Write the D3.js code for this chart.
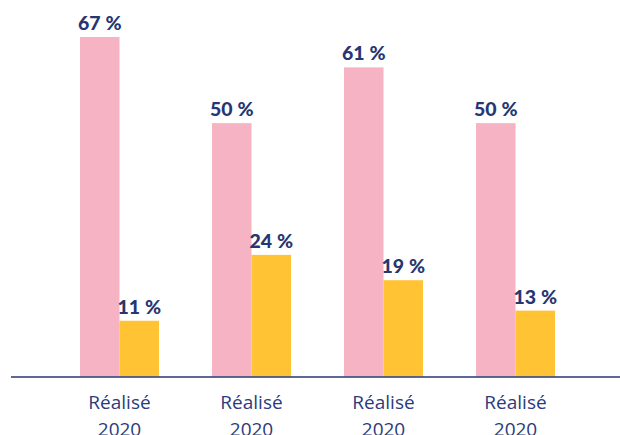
<!DOCTYPE html>
<html>
<head>
<meta charset="utf-8">
<script src="https://d3js.org/d3.v7.min.js"></script>
<style>
  body { margin: 0; background: #fff; }
  svg text { font-family: Lato, "Open Sans", sans-serif; }
</style>
</head>
<body>
<div id="chart"></div>
<script>
  // data
  const groups = ["g1", "g2", "g3", "g4"];
  const groupLabels = [["Réalisé", "2020"], ["Réalisé", "2020"], ["Réalisé", "2020"], ["Réalisé", "2020"]];
  const pinkValues = [67, 50, 61, 50];
  const yellowValues = [11, 24, 19, 13];
  const series = ["pink", "yellow"];
  const colors = ["#f5b3c4", "#ffc333"];

  const width = 620, height = 435;
  const navy = "#263672";

  const svg = d3.select("#chart").append("svg")
      .attr("width", width)
      .attr("height", height);

  const x = d3.scaleBand()
      .domain(groups)
      .range([80, 555])
      .paddingInner(53 / 132)
      .paddingOuter(0);

  const x1 = d3.scaleBand()
      .domain(series)
      .range([0, x.bandwidth()]);

  const y = d3.scaleLinear()
      .domain([0, 67])
      .range([376.5, 37]);

  const rows = groups.map((g, i) => ({ g, vals: [pinkValues[i], yellowValues[i]], label: groupLabels[i] }));

  const grp = svg.selectAll("g.grp")
    .data(rows)
    .join("g")
      .attr("class", "grp")
      .attr("transform", d => `translate(${x(d.g)},0)`);

  grp.selectAll("rect")
    .data(d => d.vals.map((v, j) => ({ key: series[j], v, c: colors[j] })))
    .join("rect")
      .attr("x", d => x1(d.key))
      .attr("y", d => y(d.v))
      .attr("width", x1.bandwidth())
      .attr("height", d => y(0) - y(d.v))
      .attr("fill", d => d.c);

  grp.selectAll("text.val")
    .data(d => d.vals.map((v, j) => ({ key: series[j], v })))
    .join("text")
      .attr("class", "val")
      .attr("x", d => x1(d.key) + x1.bandwidth() / 2)
      .attr("y", d => y(d.v) - 7)
      .attr("text-anchor", "middle")
      .attr("fill", navy)
      .attr("font-size", 19.5)
      .attr("font-weight", 900)
      .text(d => d.v + "\u202F%");

  // x labels, two lines
  grp.append("text")
      .attr("x", x.bandwidth() / 2)
      .attr("y", 409)
      .attr("text-anchor", "middle")
      .attr("fill", "#2c3a7c")
      .attr("font-size", 19)
      .style("font-family", "'Open Sans', sans-serif")
      .selectAll("tspan")
      .data(d => d.label)
      .join("tspan")
        .attr("x", x.bandwidth() / 2)
        .attr("dy", (d, i) => i === 0 ? 0 : 27)
        .text(d => d);

  // baseline
  svg.append("line")
      .attr("x1", 11)
      .attr("x2", width)
      .attr("y1", y(0) + 0.5)
      .attr("y2", y(0) + 0.5)
      .attr("stroke", navy)
      .attr("stroke-width", 1.5);
</script>
</body>
</html>
